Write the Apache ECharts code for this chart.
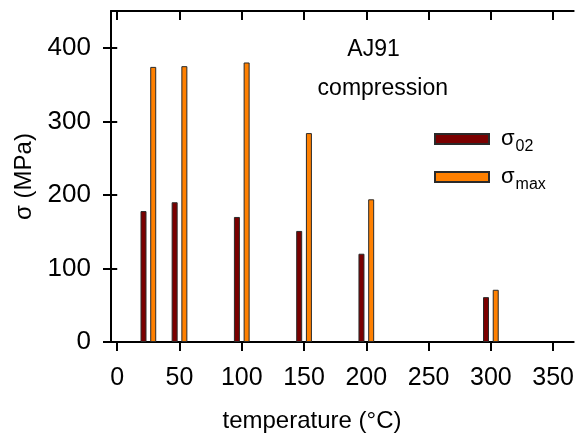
<!DOCTYPE html>
<html>
<head>
<meta charset="utf-8">
<script src="https://cdn.jsdelivr.net/npm/echarts@6/dist/echarts.min.js"></script>
<style>
  html, body { margin: 0; padding: 0; background: #fff; }
  #chart { width: 577px; height: 433px; }
</style>
</head>
<body>
<div id="chart"></div>
<script>
// AJ91 compression: yield (σ02) and maximum (σmax) stress vs. temperature
const temperatures = [25, 50, 100, 150, 200, 300];
const sigma02 = [178, 190, 170, 151, 120, 61];
const sigmaMax = [374, 375, 380, 284, 194, 71];
const xTicks = [0, 50, 100, 150, 200, 250, 300, 350];
const yTicks = [0, 100, 200, 300, 400];
const seriesNames = ['σ02', 'σmax'];

const FONT = "'Liberation Sans', Arial, Helvetica, sans-serif";
const INK = '#000';

const pairs = (xs, ys) => xs.map((x, i) => [x, ys[i]]);

const chart = echarts.init(document.getElementById('chart'), null, { renderer: 'canvas' });

const frameLine = { show: true, onZero: false, lineStyle: { color: INK, width: 2 } };

chart.setOption({
  animation: false,
  backgroundColor: '#fff',
  grid: { left: 111, top: 11, width: 467, height: 331, containLabel: false },
  xAxis: [
    {
      type: 'value', position: 'bottom', min: -5, max: 366.5,
      axisLine: frameLine,
      axisTick: { show: true, inside: false, length: 9, customValues: xTicks, lineStyle: { color: INK, width: 2 } },
      axisLabel: { show: true, customValues: xTicks, margin: 24, color: INK, fontSize: 25, fontFamily: FONT },
      splitLine: { show: false }
    },
    {
      type: 'value', position: 'top', min: -5, max: 366.5,
      axisLine: frameLine,
      axisTick: { show: true, inside: true, length: 9, customValues: xTicks, lineStyle: { color: INK, width: 2 } },
      axisLabel: { show: false },
      splitLine: { show: false }
    }
  ],
  yAxis: [
    {
      type: 'value', position: 'left', min: 0, max: 450,
      name: 'σ (MPa)', nameLocation: 'middle', nameGap: 72,
      nameTextStyle: { color: INK, fontSize: 24, fontFamily: FONT },
      axisLine: frameLine,
      axisTick: { show: true, inside: false, length: 8, customValues: yTicks, lineStyle: { color: INK, width: 2 } },
      axisLabel: { show: true, customValues: yTicks, margin: 20, color: INK, fontSize: 26, fontFamily: FONT },
      splitLine: { show: false }
    },
    {
      // right frame edge lies just past the canvas; only its inward ticks show
      type: 'value', position: 'right', min: 0, max: 450,
      axisLine: { show: false },
      axisTick: { show: true, inside: true, length: 9, customValues: yTicks, lineStyle: { color: INK, width: 2 } },
      axisLabel: { show: false },
      splitLine: { show: false }
    }
  ],
  legend: {
    orient: 'vertical', left: 434, top: 123.5, padding: 0,
    itemWidth: 54, itemHeight: 10, itemGap: 7, icon: 'rect',
    data: seriesNames,
    formatter: name => '{s|σ}{sub|' + name.slice(1) + '}',
    textStyle: {
      color: INK, fontFamily: FONT,
      rich: {
        s: { fontSize: 22, lineHeight: 22, fontFamily: FONT, color: INK, verticalAlign: 'middle', padding: [0, 0, 0, 7] },
        sub: { fontSize: 16, lineHeight: 31, fontFamily: FONT, color: INK, verticalAlign: 'bottom', padding: [15, 0, 0, 1] }
      }
    }
  },
  graphic: [
    { type: 'text', x: 373.5, y: 50, style: { text: 'AJ91', font: '23px ' + FONT, fill: INK, textAlign: 'center', textVerticalAlign: 'middle' } },
    { type: 'text', x: 382.8, y: 89, style: { text: 'compression', font: '23px ' + FONT, fill: INK, textAlign: 'center', textVerticalAlign: 'middle' } },
    { type: 'text', x: 312, y: 421, style: { text: 'temperature (°C)', font: '24px ' + FONT, fill: INK, textAlign: 'center', textVerticalAlign: 'middle' } }
  ],
  series: [
    {
      name: seriesNames[0], type: 'bar', xAxisIndex: 0, yAxisIndex: 0,
      barWidth: 6, barGap: '62%',
      itemStyle: { color: '#7a0000', borderColor: '#2a2a2a', borderWidth: 1 },
      data: pairs(temperatures, sigma02)
    },
    {
      name: seriesNames[1], type: 'bar', xAxisIndex: 0, yAxisIndex: 0,
      barWidth: 6, barGap: '62%',
      itemStyle: { color: '#ff8000', borderColor: '#2a2a2a', borderWidth: 1 },
      data: pairs(temperatures, sigmaMax)
    }
  ]
});
</script>
</body>
</html>
